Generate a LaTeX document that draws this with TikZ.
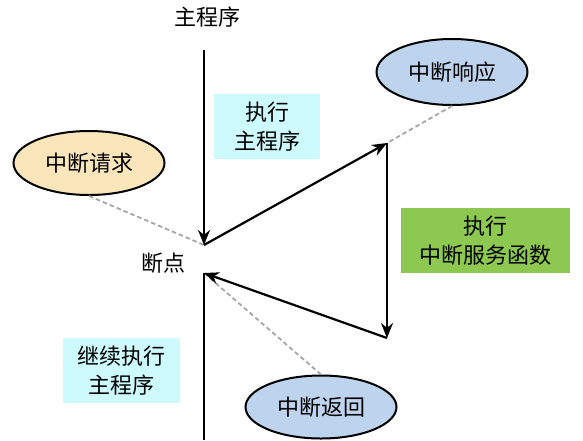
\documentclass[tikz,border=0pt]{standalone}
\usepackage{fontspec}
\setmainfont{Noto Sans CJK SC}
\usepackage{xcolor}
\usetikzlibrary{arrows.meta, shapes.geometric}

\definecolor{reqfill}{HTML}{FBE6BC}
\definecolor{bluefill}{HTML}{BED4EE}
\definecolor{cyanfill}{HTML}{CDFAFD}
\definecolor{greenfill}{HTML}{8DC850}

\tikzset{
	flow/.style={line width=2.2pt, -{Stealth[length=15pt, width=12pt]}},
	hint/.style={gray!70, line width=1.8pt, dash pattern=on 4.5pt off 3pt},
	event/.style={ellipse, draw, line width=2pt, minimum width=151pt, minimum height=64pt, inner sep=0pt},
	phase/.style={align=center, inner sep=0pt},
	label/.style={font=\fontsize{22}{29}\selectfont}
}

\begin{document}
\begin{tikzpicture}[x=1pt, y=-1pt, every node/.style={label}]
					\def\xM{204};
					\def\xS{387};
					\def\yTop{50};
					\def\yIn{245};
					\def\yOut{273};
					\def\yRes{143};
					\def\yEnd{338};
					
					\useasboundingbox (0,0) rectangle (583,440);
					
					\coordinate (top) at (\xM,\yTop);
					\coordinate (brkin) at (\xM,\yIn);
					\coordinate (brkout) at (\xM,\yOut);
					\coordinate (serv) at (\xS,\yRes);
					\coordinate (servend) at (\xS,\yEnd);
					\coordinate (bottom) at (\xM,440);
					
					\begin{scope}
						\node (title) at (207,17) {主程序};
						\node (brk) at (163,263) {断点};
					\end{scope}
					
					\begin{scope}
						\node [phase, fill=cyanfill, minimum width=106pt, minimum height=65pt] (run) at (267,126.5) {执行\\主程序};
						\node [phase, fill=greenfill, minimum width=169pt, minimum height=65pt] (isr) at (485.5,240.5) {执行\\中断服务函数};
						\node [phase, fill=cyanfill, minimum width=117pt, minimum height=65pt] (cont) at (121.5,370.5) {继续执行\\主程序};
					\end{scope}
					
					\begin{scope}
						\node [event, fill=reqfill] (req) at (89,163) {中断请求};
						\node [event, fill=bluefill, minimum height=66pt] (resp) at (452,72) {中断响应};
						\node [event, fill=bluefill, minimum height=63pt] (ret) at (321,407) {中断返回};
					\end{scope}
					
					\begin{scope}
						\draw [hint] (req.south) -- (brkin);
						\draw [hint] (resp.south) -- (serv);
						\draw [hint] (ret.north) -- (brkout);
					\end{scope}
					
					\begin{scope}
						\draw [flow] (top) -- (brkin);
						\draw [flow] (brkin) -- (serv);
						\draw [flow] (serv) -- (servend);
						\draw [flow] (servend) -- (brkout);
						\draw [line width=2.2pt] (brkout) -- (bottom);
					\end{scope}
				\end{tikzpicture}
\end{document}
